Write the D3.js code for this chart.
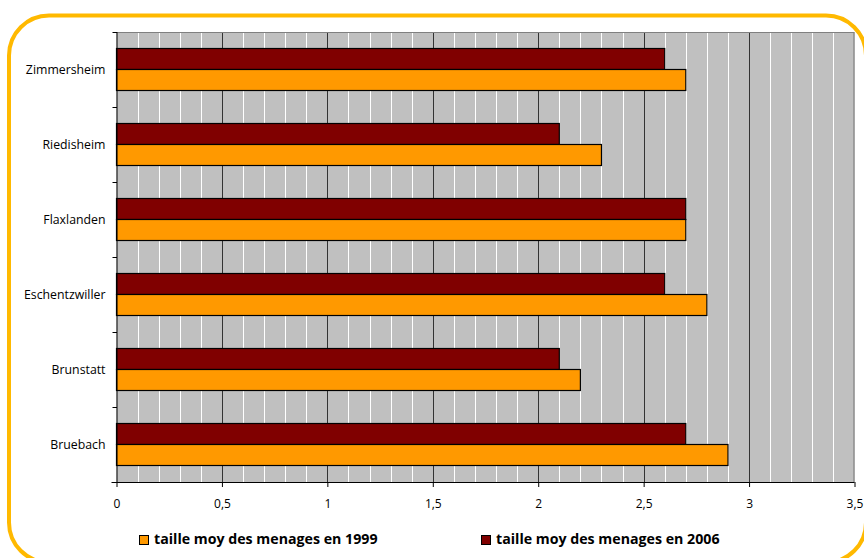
<!DOCTYPE html>
<html>
<head>
<meta charset="utf-8">
<script src="https://cdn.jsdelivr.net/npm/d3@7"></script>
<style>
  html, body { margin: 0; padding: 0; background: #ffffff; }
  svg { display: block; }
</style>
</head>
<body>
<svg id="chart" width="864" height="558"></svg>
<script>
const categories = ["Zimmersheim", "Riedisheim", "Flaxlanden", "Eschentzwiller", "Brunstatt", "Bruebach"];
const series = ["taille moy des menages en 2006", "taille moy des menages en 1999"];
const values2006 = [2.6, 2.1, 2.7, 2.6, 2.1, 2.7];
const values1999 = [2.7, 2.3, 2.7, 2.8, 2.2, 2.9];
const xTicks = [0, 0.5, 1, 1.5, 2, 2.5, 3, 3.5];
const legendOrder = ["taille moy des menages en 1999", "taille moy des menages en 2006"];
const colors = {"taille moy des menages en 2006": "#800000", "taille moy des menages en 1999": "#FF9900"};

(function () {
const svg = d3.select("#chart");
const font = "'Open Sans', sans-serif";

const pL = 116.5, pR = 854.5, pT = 32, pB = 482;

const x = d3.scaleLinear().domain([0, 3.5]).range([pL, pR]);
const y = d3.scaleBand().domain(categories).range([pT, pB]).padding(0);
const ySub = d3.scaleBand().domain(series).range([16.5, y.bandwidth() - 16.5]).padding(0);

// plot background
svg.append("rect").attr("x", pL).attr("y", pT).attr("width", pR - pL).attr("height", pB - pT)
  .attr("fill", "#C0C0C0");

// minor gridlines (white) every 0.1
const minor = d3.range(1, 35).map(i => i / 10).filter(v => Math.abs(v * 2 - Math.round(v * 2)) > 1e-6);
svg.append("g").selectAll("line").data(minor).join("line")
  .attr("x1", d => Math.round(x(d)) + 0.5).attr("x2", d => Math.round(x(d)) + 0.5)
  .attr("y1", pT).attr("y2", pB)
  .attr("stroke", "#FFFFFF").attr("stroke-width", 1);

// major gridlines (dark) every 0.5
svg.append("g").selectAll("line").data(xTicks.filter(v => v > 0 && v < 3.5)).join("line")
  .attr("x1", d => Math.round(x(d)) + 0.5).attr("x2", d => Math.round(x(d)) + 0.5)
  .attr("y1", pT).attr("y2", pB)
  .attr("stroke", "#333333").attr("stroke-width", 1);

// plot border top/right
svg.append("path")
  .attr("d", `M${pL},${pT + 0.5}H${pR - 0.5}V${pB}`)
  .attr("fill", "none").attr("stroke", "#808080").attr("stroke-width", 1.2);

// bars
const data = [];
categories.forEach((c, i) => {
  data.push({cat: c, s: series[0], v: values2006[i]});
  data.push({cat: c, s: series[1], v: values1999[i]});
});
svg.append("g").selectAll("rect").data(data).join("rect")
  .attr("x", x(0))
  .attr("y", d => y(d.cat) + ySub(d.s))
  .attr("width", d => x(d.v) - x(0))
  .attr("height", ySub.bandwidth())
  .attr("fill", d => colors[d.s])
  .attr("stroke", "#000000").attr("stroke-width", 1.2);

// x axis
const xAxis = d3.axisBottom(x).tickValues(xTicks).tickSize(5).tickSizeOuter(0)
  .tickFormat(d => String(d).replace(".", ","));
const gx = svg.append("g").attr("transform", `translate(0,${pB})`).call(xAxis);
gx.select(".domain").attr("stroke", "#000").attr("d", `M${pL - 5},0.5H${pR}`);
gx.selectAll(".tick line").attr("stroke", "#000");
gx.selectAll(".tick text").attr("font-family", font).attr("font-size", 12).attr("fill", "#000")
  .attr("y", 17);

// y axis
const gy = svg.append("g").attr("transform", `translate(${pL},0)`);
gy.append("line").attr("x1", 0.5).attr("x2", 0.5).attr("y1", pT).attr("y2", pB).attr("stroke", "#000");
const boundaries = categories.map(c => y(c)).concat([pB]);
gy.selectAll("line.tk").data(boundaries).join("line").attr("class", "tk")
  .attr("x1", -4).attr("x2", 0.5).attr("y1", d => Math.round(d) + 0.5).attr("y2", d => Math.round(d) + 0.5)
  .attr("stroke", "#000");
gy.selectAll("text").data(categories).join("text")
  .attr("x", -11).attr("y", d => y(d) + y.bandwidth() / 2 + 1)
  .attr("text-anchor", "end").attr("dominant-baseline", "middle")
  .attr("font-family", font).attr("font-size", 12.3).attr("fill", "#000")
  .text(d => d);

// legend
const legendX = [139, 481];
const lg = svg.append("g").selectAll("g").data(legendOrder).join("g")
  .attr("transform", (d, i) => `translate(${legendX[i]},535)`);
lg.append("rect").attr("x", 0.5).attr("y", 0.5).attr("width", 9).attr("height", 9)
  .attr("fill", d => colors[d]).attr("stroke", "#000").attr("stroke-width", 1);
lg.append("text").attr("x", 15).attr("y", 5.5).attr("dominant-baseline", "middle")
  .attr("font-family", font).attr("font-size", 14.2).attr("font-weight", "bold").attr("fill", "#000")
  .text(d => d);

// rounded frame
svg.append("rect").attr("x", 9).attr("y", 15.5).attr("width", 857).attr("height", 547).attr("rx", 40).attr("ry", 40)
  .attr("fill", "none").attr("stroke", "#FFB900").attr("stroke-width", 4);
})();
</script>
</body>
</html>
